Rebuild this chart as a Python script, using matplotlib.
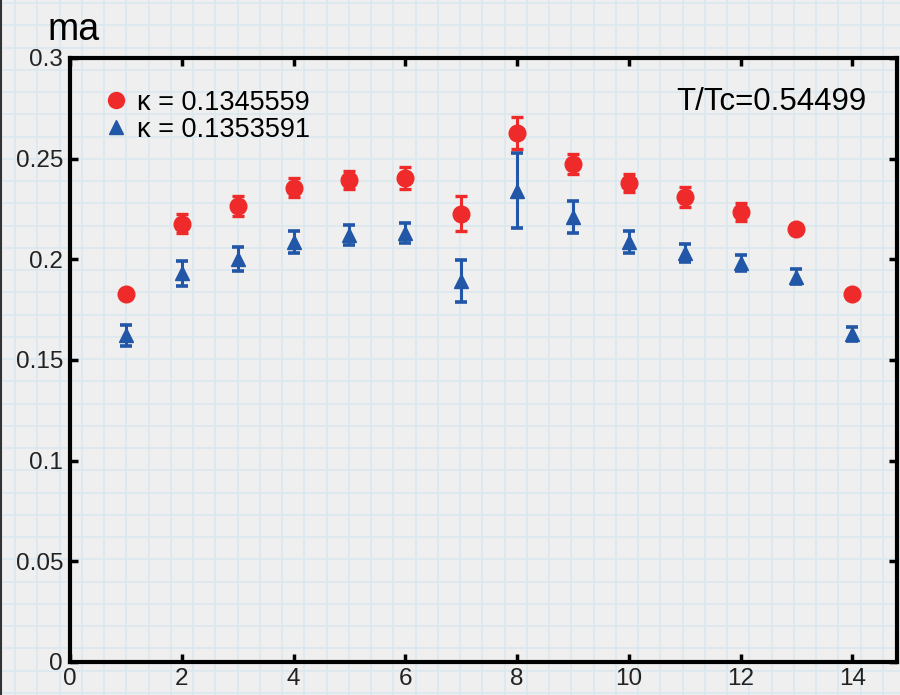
import numpy as np
import matplotlib.pyplot as plt
from matplotlib.lines import Line2D

plt.rcParams['font.family'] = ['Liberation Sans', 'DejaVu Sans']

# data
x = np.arange(1, 15)
red_y = [0.1828, 0.2176, 0.2265, 0.2355, 0.2394, 0.2404, 0.2226,
         0.2628, 0.2474, 0.2380, 0.2310, 0.2235, 0.2151, 0.1828]
red_err = [0.000, 0.0047, 0.0050, 0.0047, 0.0045, 0.0055, 0.0087,
           0.0080, 0.0050, 0.0045, 0.0050, 0.0047, 0.000, 0.000]
blue_y = [0.1624, 0.1932, 0.2002, 0.2086, 0.2121, 0.2130, 0.1893,
          0.2340, 0.2210, 0.2086, 0.2032, 0.1982, 0.1913, 0.1630]
blue_err = [0.0052, 0.0062, 0.0060, 0.0057, 0.0050, 0.0050, 0.0104,
            0.0186, 0.0080, 0.0057, 0.0045, 0.0042, 0.0037, 0.0035]
labels = ['κ = 0.1345559', 'κ = 0.1353591']
xticks = [0, 2, 4, 6, 8, 10, 12, 14]
yticks = [0, 0.05, 0.1, 0.15, 0.2, 0.25, 0.3]
ytick_labels = ['0', '0.05', '0.1', '0.15', '0.2', '0.25', '0.3']

red = '#EE2A2A'
blue = '#2256A6'

fig = plt.figure(figsize=(9, 6.95), dpi=100)
fig.patch.set_facecolor('#EFEFEF')

# graph paper background
bg = fig.add_axes([0, 0, 1, 1], zorder=-1)
bg.set_xlim(0, 900)
bg.set_ylim(695, 0)
bg.axis('off')
for gx in np.arange(15, 900, 22.25):
    bg.axvline(gx, color='#D9E8EF', lw=1.1)
for gy in np.arange(3, 695, 22.25):
    bg.axhline(gy, color='#D9E8EF', lw=1.1)
bg.axvline(0.8, color='#333333', lw=1.5)

ax = fig.add_axes([70/900, 33/695, 827/900, 604/695])
ax.patch.set_alpha(0)

ax.errorbar(x, red_y, yerr=red_err, fmt='o', color=red, ms=12,
            elinewidth=2.2, capsize=4.5, capthick=2.4, zorder=3)
ax.errorbar(x, blue_y, yerr=blue_err, fmt='^', color=blue, ms=10,
            elinewidth=2.2, capsize=4.5, capthick=2.6, zorder=2)

ax.set_xlim(0, 14.8)
ax.set_ylim(0, 0.3)
ax.set_xticks(xticks)
ax.set_yticks(yticks)
ax.set_yticklabels(ytick_labels)
for s in ax.spines.values():
    s.set_linewidth(3)
ax.tick_params(direction='in', length=6, width=2.5, top=True, right=True,
               labelsize=17.5, pad=5, labelcolor='#222222')
ax.tick_params(axis='x', pad=4)

handles = [Line2D([], [], ls='none', marker='o', color=red, ms=11.5),
           Line2D([], [], ls='none', marker='^', color=blue, ms=10)]
ax.legend(handles, labels, loc='upper left', bbox_to_anchor=(0.006, 0.988),
          frameon=False, fontsize=19.5, handletextpad=0.2,
          handlelength=1.2, labelspacing=0.05)

ax.text(0.963, 0.927, 'T/Tc=0.54499', transform=ax.transAxes,
        ha='right', va='center', fontsize=22.5)
fig.text(47/900, 1 - 30/695, 'ma', fontsize=27, va='center', ha='left')

fig.savefig('out.png', dpi=100, facecolor=fig.get_facecolor())
